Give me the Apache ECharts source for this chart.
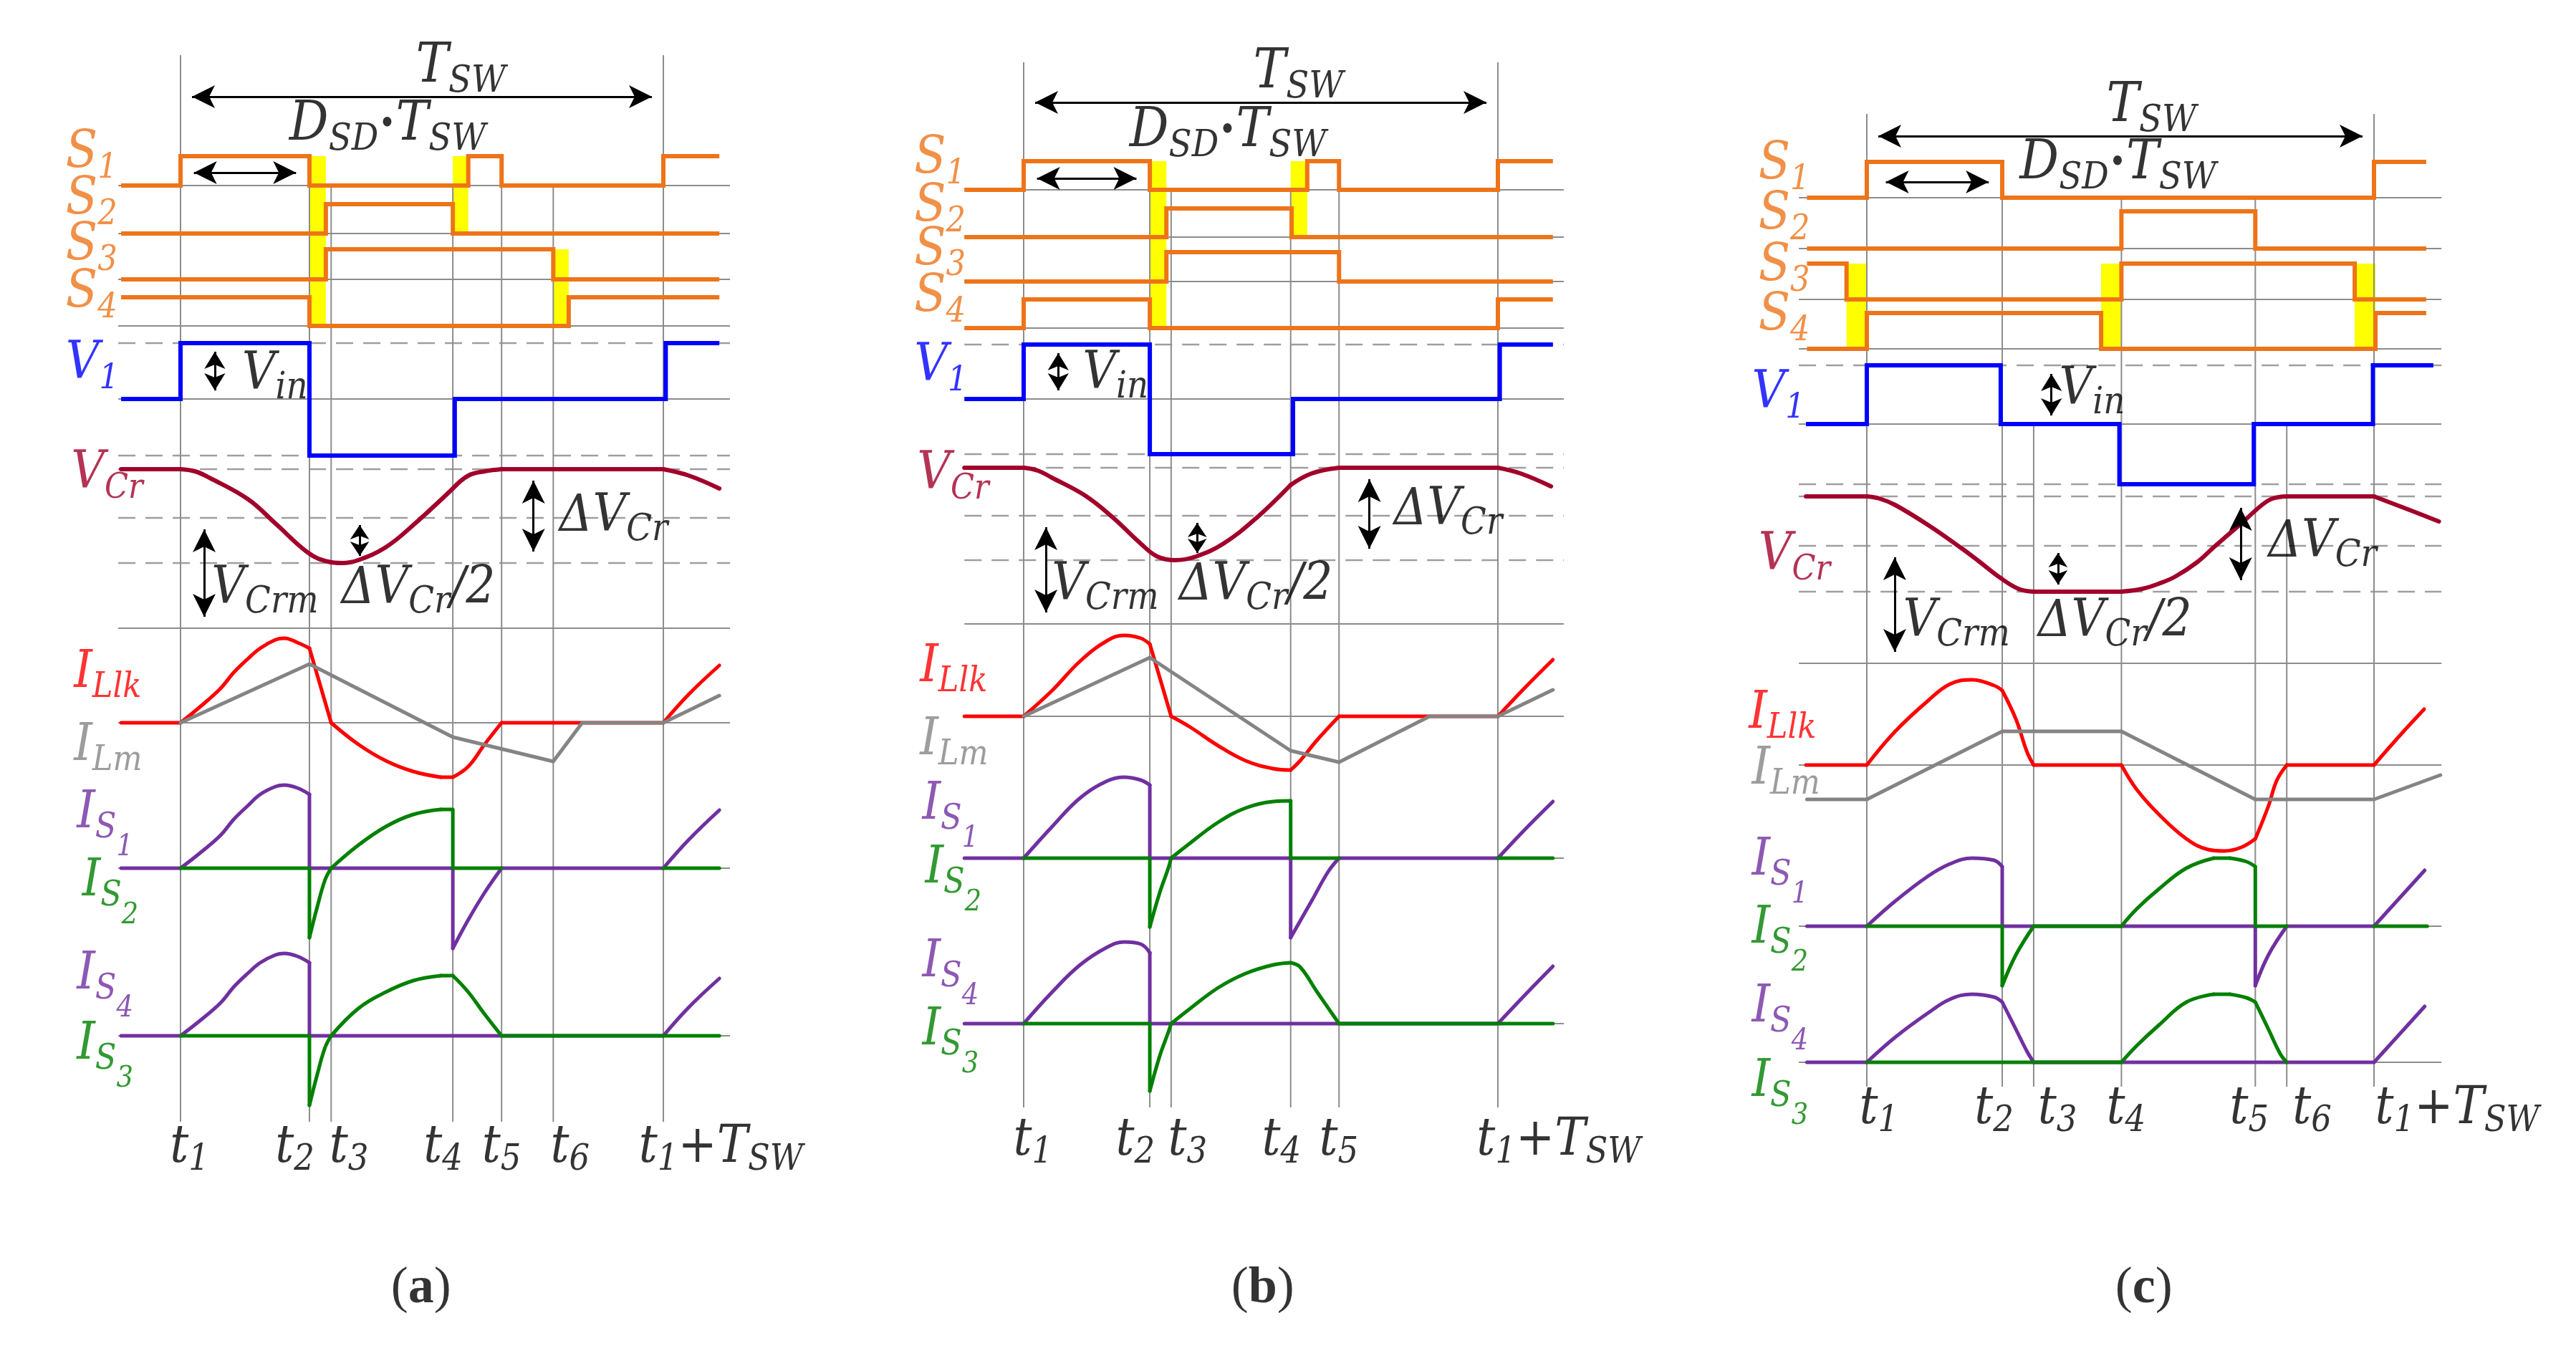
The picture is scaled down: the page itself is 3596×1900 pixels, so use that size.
<!DOCTYPE html>
<html>
<head>
<meta charset="utf-8">
<title>Switching waveforms</title>
<script src="https://cdn.jsdelivr.net/npm/echarts@6/dist/echarts.min.js"></script>
<style>
html,body{margin:0;padding:0;background:#ffffff;}
#chart{width:3596px;height:1900px;}
</style>
</head>
<body>
<div id="chart"></div>
<script>
// ======================= DATA =======================
// Time: percent of T_SW (t1 = 0, t1 + T_SW = 100).
// Values: level of each trace above its own baseline (vertical units).

// ---------- panel (a) ----------
const A_TIMES = [0, 26.7, 31.2, 56.4, 66.5, 77.2, 100];
const A_TICKS = ['{m|t}{s|1}', '{m|t}{s|2}', '{m|t}{s|3}', '{m|t}{s|4}', '{m|t}{s|5}', '{m|t}{s|6}', '{m|t}{s|1}{m|+T}{s|SW}'];
const A_S1 = [[-12.3,0],[0,0],[0,41],[26.7,41],[26.7,0],[59.6,0],[59.6,41],[66.5,41],[66.5,0],[100,0],[100,41],[111.6,41]];
const A_S2 = [[-12.3,0],[30.1,0],[30.1,41],[56.4,41],[56.4,0],[111.6,0]];
const A_S3 = [[-12.3,0],[30.1,0],[30.1,42],[77.2,42],[77.2,0],[111.6,0]];
const A_S4 = [[-12.3,40],[26.7,40],[26.7,0],[80.4,0],[80.4,40],[111.6,40]];
const A_DEAD = [[26.7,30.1,0,3],[56.4,59.6,0,1],[77.2,80.4,2,3]];
const A_V1 = [[-12.3,0],[0,0],[0,78],[26.7,78],[26.7,-79],[56.8,-79],[56.8,0],[100.5,0],[100.5,78],[111.6,78]];
const A_VCR = [[-12.3,0],[0,0],[3,-3],[6.0,-12],[14.0,-42],[19.7,-76],[26.5,-117],[30.5,-129],[33.5,-131],[36.8,-127],[42.5,-109],[48.2,-78],[56.4,-27],[59.6,-9],[63.0,-3],[66.5,0],[100,0],[105.3,-9],[111.6,-27]];
const A_ILLK = [[-12.3,0],[0,0],[4,22],[8.3,48],[11,70],[13.9,89],[16.5,104],[19.7,116],[21.5,118],[24.2,112],[26.7,104],[31.2,0],[36.8,-30],[42.5,-53],[48.2,-68],[53.9,-76],[56.4,-76],[59.6,-61],[63.0,-30],[66.5,0],[100,0],[105.3,40],[111.6,80]];
const A_ILM = [[0,0],[26.7,82],[56.4,-20],[77.2,-54],[83.2,0],[100,0],[111.6,38]];
const A_IS1 = [[-12.3,0],[0,0],[4,21],[8.3,46],[11,68],[13.9,87],[16.5,103],[19.7,114],[21.5,116],[24.2,112],[26.7,103],[26.7,0],[56.4,0],[56.4,-112],[59.6,-72],[63.0,-34],[66.5,0],[100,0],[105.3,40],[111.6,81]];
const A_IS2 = [[0,0],[26.7,0],[26.7,-97],[28.2,-57],[29.9,-17],[31.2,0],[36.8,32],[42.5,58],[48.2,75],[53.9,82],[56.4,82],[56.4,0],[66.5,0],null,[100,0],[111.6,0]];
const A_IS4 = [[-12.3,0],[0,0],[4,21],[8.3,46],[11,68],[13.9,87],[16.5,102],[19.7,113],[21.5,115],[24.2,111],[26.7,102],[26.7,0],[100,0],[105.3,40],[111.6,80]];
const A_IS3 = [[0,0],[26.7,0],[26.7,-97],[28.2,-57],[29.9,-17],[31.2,0],[36.8,38],[42.5,61],[48.2,77],[53.9,84],[56.4,84],[59.6,61],[63.0,30],[66.5,0],[111.6,0]];

// ---------- panel (b) ----------
const B_TIMES = [0, 26.6, 31.1, 56.3, 66.5, 100];
const B_TICKS = ['{m|t}{s|1}', '{m|t}{s|2}', '{m|t}{s|3}', '{m|t}{s|4}', '{m|t}{s|5}', '{m|t}{s|1}{m|+T}{s|SW}'];
const B_S1 = [[-12.5,0],[0,0],[0,40],[26.6,40],[26.6,0],[59.8,0],[59.8,40],[66.5,40],[66.5,0],[100,0],[100,40],[111.6,40]];
const B_S2 = [[-12.5,0],[30.1,0],[30.1,40],[56.5,40],[56.5,0],[111.6,0]];
const B_S3 = [[-12.5,0],[30.1,0],[30.1,41],[66.5,41],[66.5,0],[111.6,0]];
const B_S4 = [[-12.5,0],[0,0],[0,40],[26.6,40],[26.6,0],[100,0],[100,40],[111.6,40]];
const B_DEAD = [[26.6,30.1,0,3],[56.3,59.8,0,1]];
const B_V1 = [[-12.5,0],[0,0],[0,76],[26.6,76],[26.6,-77],[56.8,-77],[56.8,0],[100.4,0],[100.4,76],[111.6,76]];
const B_VCR = [[-12.5,0],[0,0],[3,-4],[6.0,-14],[13.0,-39],[18.9,-70],[24.7,-106],[28.2,-124],[32.0,-129],[36.3,-124],[42.1,-106],[49.1,-70],[56.3,-24],[60.7,-8],[66.5,0],[100,0],[104.8,-8],[111.2,-26]];
const B_ILLK = [[-12.5,0],[0,0],[6.0,36],[11.9,77],[17.7,106],[21.2,113],[24.7,109],[26.6,101],[31.1,0],[35.1,-15],[41.0,-41],[46.8,-62],[52.6,-73],[56.3,-75],[58.3,-62],[61.9,-33],[66.5,0],[100,0],[106,42],[111.6,79]];
const B_ILM = [[0,0],[26.6,82],[56.3,-48],[66.5,-64],[85.6,0],[100,0],[111.6,37]];
const B_IS1 = [[-12.5,0],[0,0],[6.0,44],[11.9,84],[17.7,108],[21.2,113],[24.7,109],[26.6,102],[26.6,0],[56.3,0],[56.3,-111],[60.7,-60],[64.2,-19],[66.5,0],[100,0],[106,42],[111.6,79]];
const B_IS2 = [[0,0],[26.6,0],[26.6,-96],[28.7,-48],[30.5,-14],[31.1,0],[35.1,21],[41.0,50],[46.8,70],[52.6,79],[56.3,80],[56.3,0],[66.5,0],null,[100,0],[111.6,0]];
const B_IS4 = [[-12.5,0],[0,0],[6.0,44],[11.9,82],[17.7,107],[21.2,114],[24.7,111],[26.6,99],[26.6,0],[100,0],[106,42],[111.6,80]];
const B_IS3 = [[0,0],[26.6,0],[26.6,-94],[28.7,-45],[30.5,-12],[31.1,0],[35.1,21],[41.0,50],[46.8,70],[52.6,82],[56.3,85],[58.3,79],[61.9,44],[66.5,0],[111.6,0]];

// ---------- panel (c) ----------
const C_TIMES = [0, 26.7, 32.9, 50.2, 76.6, 82.8, 100];
const C_TICKS = ['{m|t}{s|1}', '{m|t}{s|2}', '{m|t}{s|3}', '{m|t}{s|4}', '{m|t}{s|5}', '{m|t}{s|6}', '{m|t}{s|1}{m|+T}{s|SW}'];
const C_S1 = [[-11.8,0],[0,0],[0,50],[26.7,50],[26.7,0],[100,0],[100,50],[110.3,50]];
const C_S2 = [[-11.8,0],[50.2,0],[50.2,52],[76.6,52],[76.6,0],[110.3,0]];
const C_S3 = [[-11.8,50],[-4.0,50],[-4.0,0],[50.2,0],[50.2,50],[96.2,50],[96.2,0],[110.3,0]];
const C_S4 = [[-11.8,0],[0,0],[0,50],[46.2,50],[46.2,0],[100.3,0],[100.3,50],[110.3,50]];
const C_DEAD = [[-4.0,0,2,3],[46.2,50.2,2,3],[96.2,100.3,2,3]];
const C_V1 = [[-12.0,0],[0,0],[0,82],[26.4,82],[26.4,0],[49.8,0],[49.8,-84],[76.3,-84],[76.3,0],[99.8,0],[99.8,82],[111.7,82]];
const C_VCR = [[-12.0,0],[0,0],[2.5,-3],[5.6,-12],[12.1,-40],[18.6,-72],[22.0,-90],[26.2,-113],[29.9,-129],[32.9,-133],[50.2,-133],[54.3,-129],[57.5,-122],[60.8,-112],[65.1,-92],[68.4,-71],[71.0,-55],[73.8,-38],[77.9,-12],[80.0,-3],[82.8,0],[100,0],[106.3,-17],[112.8,-35]];
const C_ILLK = [[-12.0,0],[0,0],[5.6,47],[12.1,90],[16.4,113],[20.7,119],[25.1,111],[26.7,104],[29.4,64],[31.6,18],[32.9,0],[50.2,0],[53.2,-34],[57.6,-69],[63.0,-103],[67.3,-118],[70.5,-120],[73.8,-115],[76.6,-103],[79.2,-57],[80.8,-22],[82.8,0],[100,0],[105.2,42],[109.9,78]];
const C_ILM = [[-11.8,-48],[0,-48],[26.7,47],[50.2,47],[76.6,-48],[100,-48],[113.1,-14]];
const C_IS1 = [[-11.8,0],[0,0],[5.6,35],[12.1,70],[16.4,87],[20.7,95],[25.1,92],[26.7,83],[26.7,0],[76.6,0],[76.6,-83],[79.2,-40],[82.8,0],[100,0],[110.0,78]];
const C_IS2 = [[0,0],[26.7,0],[26.7,-83],[29.4,-40],[32.9,0],[50.2,0],[53.2,24],[57.6,52],[63.0,81],[68.4,95],[71.6,95],[74.9,90],[76.6,83],[76.6,0],[82.8,0],null,[100,0],[110.5,0]];
const C_IS4 = [[-11.8,0],[0,0],[5.6,35],[12.1,69],[16.4,88],[20.7,95],[25.1,91],[26.7,84],[29.4,46],[31.6,15],[32.9,0],[100,0],[110.0,78]];
const C_IS3 = [[0,0],[50.2,0],[53.2,23],[57.6,52],[63.0,84],[68.4,95],[71.6,95],[74.9,90],[76.6,84],[79.2,46],[81.5,12],[82.8,0]];

// signal names (rich markup), annotations and panel captions
const SIGNAL_NAMES = ['{m|S}{s|1}','{m|S}{s|2}','{m|S}{s|3}','{m|S}{s|4}','{m|V}{s|1}','{m|V}{s|Cr}','{m|I}{s|Llk}','{m|I}{s|Lm}','{m|I}{s|S}{ss|1}','{m|I}{s|S}{ss|2}','{m|I}{s|S}{ss|4}','{m|I}{s|S}{ss|3}'];
const NOTE_TEXTS = ['{m|T}{s|SW}','{m|D}{s|SD}{d|•}{m|T}{s|SW}','{m|V}{s|in}','{m|ΔV}{s|Cr}','{m|V}{s|Crm}','{m|ΔV}{s|Cr}{m|/2}'];
const CAPTIONS = ['a','b','c'];

// ======================= LAYOUT / STYLE =======================
const ORANGE = '#EE7419', BLUE = '#0000FF', DARKRED = '#A1002A', RED = '#FF0000', GREY = '#848484',
      PURPLE = '#7030A0', GREEN = '#008000', YELLOW = '#FFFF00', GRIDC = '#8C8C8C', DASHC = '#9E9E9E';
const FONT = '"DejaVu Serif Condensed", "DejaVu Serif", "Liberation Serif", serif';
const K_MID = 0.346;          // baseline offset below the 'middle' line, in em
const X_MIN = -30, X_MAX = 130;
const SIGNAL_COLORS = [ORANGE,ORANGE,ORANGE,ORANGE,BLUE,DARKRED,RED,GREY,PURPLE,GREEN,PURPLE,GREEN];

const PANELS = [
  { t1px: 252, tswPx: 674, ext: [-12.9, 113.8], vBot: 1566,
    bases: [259,326,390,455,557,655,1009,1212,1446],
    solid: [259,326,390,455,557,877,1009,1212,1446], dashed: [479,636,655,723,786],
    vTop: [77,259,259,259,259,259,77],
    times: A_TIMES, ticks: A_TICKS, tickPos: [-2.1,19.7,30.9,50.4,62.5,76.7,95.0], tickY: 1604,
    S: [A_S1,A_S2,A_S3,A_S4], dead: A_DEAD,
    traces: [[A_V1,4,BLUE,6,true],[A_VCR,5,DARKRED,6],[A_ILLK,6,RED,5],[A_ILM,6,GREY,5],
             [A_IS1,7,PURPLE,5],[A_IS2,7,GREEN,5],[A_IS4,8,PURPLE,5],[A_IS3,8,GREEN,5]],
    namePos: [[-23.7,216],[-23.7,281],[-23.7,345],[-23.7,411],[-23.7,510],[-22.6,663],[-22.0,941],[-22.0,1043],[-21.4,1137],[-20.3,1232],[-21.4,1362],[-21.4,1460]],
    notePos: [[48.8,95],[22.6,176],[12.8,525],[78.5,723],[6.5,824],[33.4,824]],
    arrows: [[0,135,100,135,'L'],[0.4,241,26.3,241,'L'],[7.1,479,7.1,557,'S'],[73.1,655,73.1,786,'L'],[4.9,723,4.9,877,'L'],[37.1,723,37.1,786,'X']],
    caption: [49.9,1800] },
  { t1px: 1429, tswPx: 662, ext: [-12.5, 113.9], vBot: 1546,
    bases: [265,331,393,458,557,653,1000,1198,1429],
    solid: [265,331,393,458,557,871,1000,1198,1429], dashed: [481,634,653,720,782],
    vTop: [87,265,265,265,265,87],
    times: B_TIMES, ticks: B_TICKS, tickPos: [-2.1,19.5,30.5,50.3,62.4,95.6], tickY: 1594,
    S: [B_S1,B_S2,B_S3,B_S4], dead: B_DEAD,
    traces: [[B_V1,4,BLUE,6,true],[B_VCR,5,DARKRED,6],[B_ILLK,6,RED,5],[B_ILM,6,GREY,5],
             [B_IS1,7,PURPLE,5],[B_IS2,7,GREEN,5],[B_IS4,8,PURPLE,5],[B_IS3,8,GREEN,5]],
    namePos: [[-23.0,224],[-23.0,291],[-23.0,352],[-23.0,417],[-23.0,513],[-22.4,664],[-21.8,933],[-21.8,1035],[-21.3,1125],[-20.7,1214],[-21.3,1345],[-21.3,1440]],
    notePos: [[48.5,103],[22.4,185],[12.5,524],[78.1,714],[6.0,819],[32.8,819]],
    arrows: [[0,143,100,143,'L'],[0.4,249,26.2,249,'L'],[7.3,481,7.3,557,'S'],[72.9,653,72.9,782,'L'],[4.7,720,4.7,871,'L'],[36.6,720,36.6,782,'X']],
    caption: [50.5,1800] },
  { t1px: 2606, tswPx: 708, ext: [-13.4, 113.3], vBot: 1517,
    bases: [276,347,418,487,592,693,1068,1293,1483],
    solid: [276,347,418,487,592,926,1068,1293,1483], dashed: [510,676,693,762,826],
    vTop: [159,276,592,276,276,592,159],
    times: C_TIMES, ticks: C_TICKS, tickPos: [-1.4,21.3,33.8,47.3,71.6,84.0,100.3], tickY: 1550,
    S: [C_S1,C_S2,C_S3,C_S4], dead: C_DEAD,
    traces: [[C_V1,4,BLUE,6,true],[C_VCR,5,DARKRED,6],[C_ILLK,6,RED,5],[C_ILM,6,GREY,5],
             [C_IS1,7,PURPLE,5],[C_IS2,7,GREEN,5],[C_IS4,8,PURPLE,5],[C_IS3,8,GREEN,5]],
    namePos: [[-21.3,232],[-21.3,302],[-21.3,374],[-21.3,443],[-22.6,551],[-21.3,777],[-23.2,998],[-22.6,1076],[-22.6,1203],[-22.6,1298],[-22.6,1408],[-22.6,1512]],
    notePos: [[47.3,150],[30.2,230],[38.0,546],[79.2,759],[7.2,870],[33.8,870]],
    arrows: [[0,190,100,190,'L'],[1.5,254,26.3,254,'L'],[36.4,510,36.4,592,'S'],[73.7,693,73.7,826,'L'],[5.5,762,5.5,926,'L'],[37.7,762,37.7,826,'X']],
    caption: [54.7,1800] }
];
const NOTE_SIZES = [76, 76, 72, 72, 72, 72];
const ARROW_SIZES = { L: [24, 32], S: [22, 24], X: [20, 20] };

// ======================= BUILD =======================
function splitNull(data) {
  const out = []; let cur = [];
  data.forEach(p => { if (p === null) { if (cur.length) out.push(cur); cur = []; } else cur.push(p); });
  if (cur.length) out.push(cur);
  return out;
}
// split a polyline into straight (axis-aligned) runs and curved runs; curved runs break at event times
function pieces(pts, events) {
  const runs = [];
  let cur = null;
  for (let i = 1; i < pts.length; i++) {
    const a = pts[i - 1], b = pts[i];
    const axis = (a[0] === b[0]) || (a[1] === b[1]);
    const atEvent = events.some(e => Math.abs(e - a[0]) < 0.05);
    if (!cur || cur.axis !== axis || (!axis && atEvent)) {
      if (cur) runs.push(cur);
      cur = { axis: axis, pts: [a, b] };
    } else cur.pts.push(b);
  }
  if (cur) runs.push(cur);
  return runs;
}
function lineS(g, data, color, width, type, z, join, smooth) {
  return { type: 'line', xAxisIndex: g, yAxisIndex: g, data: data, symbol: 'none', silent: true, clip: false,
           z: z, animation: false, smooth: smooth || false,
           lineStyle: { color: color, width: width, type: type, join: join || 'round', cap: smooth !== undefined ? 'round' : 'butt' } };
}
function richStyles(color, F, f, d) {
  const b = { fontFamily: FONT, fontStyle: 'italic', color: color, verticalAlign: 'middle', lineHeight: 240 };
  const ff = Math.round(f * 0.86);
  return {
    m:  Object.assign({}, b, { fontSize: F }),
    s:  Object.assign({}, b, { fontSize: f,  padding: [Math.round(2 * (K_MID * (F - f) + d)), 0, 0, 0] }),
    ss: Object.assign({}, b, { fontSize: ff, padding: [Math.round(2 * (K_MID * (F - ff) + 3 * d)), 0, 0, 0] }),
    d:  Object.assign({}, b, { fontSize: Math.round(F * 0.6), fontStyle: 'normal' })
  };
}
function textItem(t, y, markup, rich, align) {
  return { value: [t, y], label: { show: true, position: [0, 0], align: align || 'left', verticalAlign: 'middle',
           lineHeight: 240, formatter: () => markup, rich: rich } };
}

const grids = [], xAxes = [], yAxes = [], series = [];
PANELS.forEach((P, g) => {
  const sc = P.tswPx / 100;
  grids.push({ left: P.t1px + X_MIN * sc, width: (X_MAX - X_MIN) * sc, top: 0, height: 1900 });
  xAxes.push({ type: 'value', gridIndex: g, min: X_MIN, max: X_MAX, show: false });
  yAxes.push({ type: 'value', gridIndex: g, min: 0, max: 1900, inverse: true, show: false });

  // grid lines
  P.solid.forEach(y => series.push(lineS(g, [[P.ext[0], y], [P.ext[1], y]], GRIDC, 2, 'solid', 1)));
  P.dashed.forEach(y => series.push(lineS(g, [[P.ext[0], y], [P.ext[1], y]], DASHC, 2.5, [24, 14], 1)));
  P.times.forEach((t, i) => series.push(lineS(g, [[t, P.vTop[i]], [t, P.vBot]], GRIDC, 2, 'solid', 1)));

  // dead-time bands (yellow)
  const highs = P.S.map(d => Math.max.apply(null, d.map(p => p[1])));
  series.push({ type: 'line', xAxisIndex: g, yAxisIndex: g, data: [[0, P.bases[0]]], symbol: 'none', silent: true,
    z: 2, lineStyle: { opacity: 0 },
    markArea: { silent: true, itemStyle: { color: YELLOW, opacity: 1, borderWidth: 0 }, label: { show: false },
      data: P.dead.map(dd => [{ coord: [dd[0], P.bases[dd[2]] - highs[dd[2]]] }, { coord: [dd[1], P.bases[dd[3]]] }]) } });

  // gate signals
  P.S.forEach((d, i) => series.push(lineS(g, d.map(p => [p[0], P.bases[i] - p[1]]), ORANGE, 6, 'solid', 3, 'miter')));
  // analog traces
  P.traces.forEach(tr => {
    const [data, bi, color, w, digital] = tr;
    splitNull(data).forEach(seg => {
      const pts = seg.map(p => [p[0], P.bases[bi] - p[1]]);
      if (digital) { series.push(lineS(g, pts, color, w, 'solid', 3, 'miter')); return; }
      pieces(pts, P.times).forEach(r => {
        series.push(lineS(g, r.pts, color, w, 'solid', 3, 'round', (!r.axis && r.pts.length > 2) ? 0.4 : false));
      });
    });
  });

  // text labels
  const items = [];
  SIGNAL_NAMES.forEach((nm, i) => items.push(textItem(P.namePos[i][0], P.namePos[i][1], nm, richStyles(SIGNAL_COLORS[i], 72, 48, 12))));
  P.ticks.forEach((tk, i) => items.push(textItem(P.tickPos[i], P.tickY, tk, richStyles('#000', 72, 50, 9))));
  NOTE_TEXTS.forEach((nt, i) => items.push(textItem(P.notePos[i][0], P.notePos[i][1], nt, richStyles('#000', NOTE_SIZES[i], 52, 11))));
  items.push({ value: P.caption, label: { show: true, position: [0, 0], align: 'center', verticalAlign: 'middle', lineHeight: 120,
      formatter: () => '{pp|(}{bb|' + CAPTIONS[g] + '}{pp|)}',
      rich: { pp: { fontFamily: '"Liberation Serif", serif', fontSize: 72, color: '#000', lineHeight: 120 },
              bb: { fontFamily: '"Liberation Serif", serif', fontSize: 72, fontWeight: 'bold', color: '#000', lineHeight: 120 } } } });

  // dimension arrows
  const mlData = P.arrows.map(a => {
    let [x1, y1, x2, y2, k] = a;
    const S = ARROW_SIZES[k];
    const h = S[1] / 2;
    if (y1 === y2) { x1 += h / sc; x2 -= h / sc; } else { y1 += h; y2 -= h; }
    return [{ coord: [x1, y1], symbol: 'arrow', symbolSize: S }, { coord: [x2, y2], symbol: 'arrow', symbolSize: S }];
  });
  series.push({ type: 'scatter', xAxisIndex: g, yAxisIndex: g, symbolSize: 1, silent: true, clip: false, z: 10,
    itemStyle: { color: 'rgba(0,0,0,0)' }, data: items,
    markLine: { silent: true, symbol: ['arrow', 'arrow'], label: { show: false }, lineStyle: { color: '#000', width: 3, type: 'solid' },
      emphasis: { disabled: true }, data: mlData } });
});

const chart = echarts.init(document.getElementById('chart'), null, { renderer: 'canvas', width: 3596, height: 1900 });
chart.setOption({ animation: false, backgroundColor: '#ffffff', grid: grids, xAxis: xAxes, yAxis: yAxes, series: series });
</script>
</body>
</html>
